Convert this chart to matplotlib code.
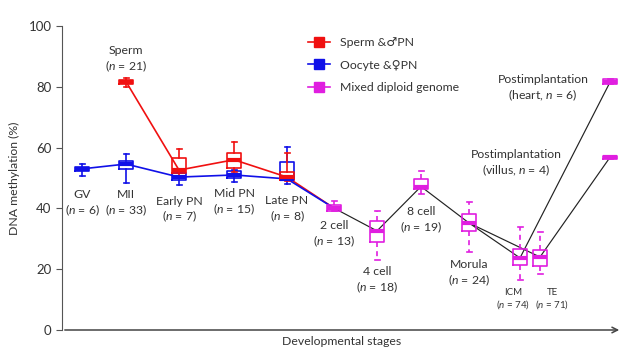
import matplotlib
matplotlib.use('Agg')
import matplotlib.pyplot as plt
from matplotlib.lines import Line2D

plt.rcParams['font.family'] = ['Lato', 'DejaVu Sans']
plt.rcParams['mathtext.fontset'] = 'custom'
plt.rcParams['mathtext.rm'] = 'Lato'
plt.rcParams['mathtext.it'] = 'Lato:italic'

RED = '#f01010'
BLUE = '#1010e8'
MAG = '#e01ee0'
TXT = '#333333'

# stage positions along the x axis (layout)
pos = {'GV': 0.4, 'MII': 1.28, 'Early PN': 2.34, 'Mid PN': 3.44, 'Late PN': 4.5,
       '2 cell': 5.44, '4 cell': 6.3, '8 cell': 7.18, 'Morula': 8.14,
       'ICM': 9.16, 'TE': 9.56, 'Post': 10.96}

# box stats: median, q1, q3, whisker low, whisker high
blue_stages = ['GV', 'MII', 'Early PN', 'Mid PN', 'Late PN']
blue_med = [53.0, 54.6, 50.3, 51.0, 49.7]
blue_q1 = [52.3, 52.8, 49.3, 50.0, 49.2]
blue_q3 = [53.6, 55.5, 51.5, 52.2, 55.2]
blue_lo = [50.5, 48.5, 47.7, 48.7, 48.0]
blue_hi = [54.5, 58.0, 51.5, 52.6, 60.2]

red_stages = ['MII', 'Early PN', 'Mid PN', 'Late PN']
red_med = [81.7, 52.6, 56.0, 50.3]
red_q1 = [81.0, 51.5, 53.3, 49.5]
red_q3 = [82.4, 56.6, 58.3, 52.0]
red_lo = [80.0, 50.0, 52.0, 49.0]
red_hi = [82.8, 59.5, 61.8, 58.2]

mag_stages = ['2 cell', '4 cell', '8 cell', 'Morula', 'ICM', 'TE', 'Post', 'Post']
mag_med = [40.1, 32.6, 47.2, 35.2, 23.7, 24.0, 81.5, 56.8]
mag_q1 = [39.3, 28.9, 46.4, 32.6, 21.4, 21.0, 80.8, 56.3]
mag_q3 = [41.0, 35.9, 49.7, 38.2, 26.6, 26.3, 82.6, 57.3]
mag_lo = [39.0, 23.0, 44.7, 25.7, 16.4, 18.4, 80.8, 56.3]
mag_hi = [42.5, 39.1, 52.3, 42.1, 33.9, 32.2, 82.6, 57.3]

fig = plt.figure(figsize=(6.4, 3.59), dpi=100)
ax = fig.add_axes([62 / 640, 29 / 359, 560 / 640, 304 / 359])
ax.set_xlim(0, 11.2)
ax.set_ylim(0, 100)


def draw_boxes(stages, med, q1, q3, lo, hi, color, dashed=False):
    stats = [dict(med=m, q1=a, q3=b, whislo=l, whishi=h, fliers=[])
             for m, a, b, l, h in zip(med, q1, q3, lo, hi)]
    ax.bxp(stats, positions=[pos[s] for s in stages], widths=0.28,
           showfliers=False, manage_ticks=False,
           boxprops=dict(color=color, lw=1.2),
           medianprops=dict(color=color, lw=3),
           whiskerprops=dict(color=color, lw=1.2, ls=(0, (3, 2.5)) if dashed else '-'),
           capprops=dict(color=color, lw=1.2), capwidths=0.1)


# median connecting lines
ax.plot([pos[s] for s in red_stages] + [pos['2 cell']], red_med + [mag_med[0]],
        color=RED, lw=1.2, zorder=1)
ax.plot([pos[s] for s in blue_stages] + [pos['2 cell']], blue_med + [mag_med[0]],
        color=BLUE, lw=1.2, zorder=1)
k = '#222222'
ax.plot([pos[s] for s in ['2 cell', '4 cell', '8 cell', 'Morula', 'ICM']] + [pos['Post']],
        mag_med[:5] + [mag_med[6]], color=k, lw=0.85, zorder=1)
ax.plot([pos['Morula'], pos['TE'], pos['Post']], [mag_med[3], mag_med[5], mag_med[7]],
        color=k, lw=0.85, zorder=1)

draw_boxes(blue_stages, blue_med, blue_q1, blue_q3, blue_lo, blue_hi, BLUE)
draw_boxes(red_stages, red_med, red_q1, red_q3, red_lo, red_hi, RED)
draw_boxes(mag_stages, mag_med, mag_q1, mag_q3, mag_lo, mag_hi, MAG, dashed=True)

# stage labels
labels = [
    ('GV', '6', 'GV', 41.6),
    ('MII', '33', 'MII', 41.6),
    ('Early PN', '7', 'Early PN', 39.5),
    ('Mid PN', '15', 'Mid PN', 41.9),
    ('Late PN', '8', 'Late PN', 39.6),
    ('2 cell', '13', '2 cell', 31.4),
    ('4 cell', '18', '4 cell', 16.3),
    ('8 cell', '19', '8 cell', 36.0),
    ('Morula', '24', 'Morula', 18.6),
    ('Sperm', '21', 'MII', 89.0),
]
for name, n, st, yv in labels:
    ax.text(pos[st], yv, name + '\n($n$ = ' + n + ')', ha='center', va='center',
            fontsize=8.8, color=TXT, linespacing=1.2)

ax.text(9.02, 10.0, 'ICM\n($n$ = 74)', ha='center', va='center', fontsize=7,
        color=TXT, linespacing=1.2)
ax.text(9.8, 10.0, 'TE\n($n$ = 71)', ha='center', va='center', fontsize=7,
        color=TXT, linespacing=1.2)
ax.text(9.62, 79.4, 'Postimplantation\n(heart, $n$ = 6)', ha='center', va='center',
        fontsize=8.8, color=TXT, linespacing=1.2)
ax.text(9.08, 54.8, 'Postimplantation\n(villus, $n$ = 4)', ha='center', va='center',
        fontsize=8.8, color=TXT, linespacing=1.2)

# legend
handles = [Line2D([], [], color=c, lw=1.2, marker='s', markersize=7,
                  markerfacecolor=c, markeredgecolor=c) for c in (RED, BLUE, MAG)]
ax.legend(handles, ['Sperm &\u2642PN', 'Oocyte &\u2640PN', 'Mixed diploid genome'],
          loc='upper left', bbox_to_anchor=(0.42, 1.0), frameon=False,
          fontsize=8.8, handlelength=1.8, handletextpad=0.8, labelspacing=0.95,
          labelcolor=TXT)

# axes styling
for s in ('top', 'right', 'bottom'):
    ax.spines[s].set_visible(False)
ax.spines['left'].set_color('#555555')
ax.set_yticks([0, 20, 40, 60, 80, 100])
ax.tick_params(axis='y', direction='out', length=4, color='#555555',
               labelsize=9.5, labelcolor=TXT)
ax.set_xticks([])
ax.annotate('', xy=(1.0, 0), xytext=(0, 0), xycoords='axes fraction',
            arrowprops=dict(arrowstyle='->', color='#444444', lw=1.1))
ax.set_xlabel('Developmental stages', fontsize=8.8, color=TXT, labelpad=4)
ax.set_ylabel('DNA methylation (%)', fontsize=8.8, color=TXT, labelpad=6)

fig.savefig('out.png', dpi=100)
